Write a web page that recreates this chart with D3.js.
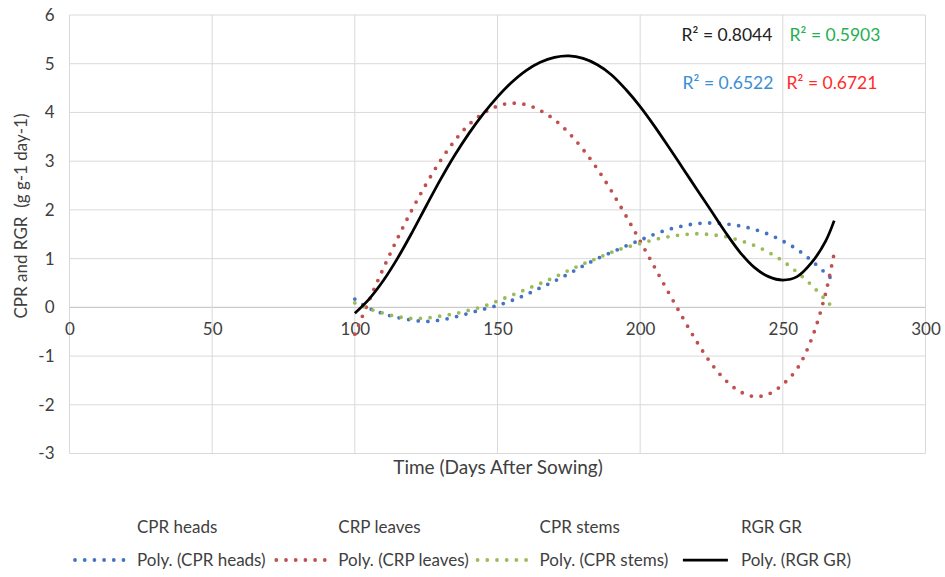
<!DOCTYPE html>
<html>
<head>
<meta charset="utf-8">
<script src="https://cdn.jsdelivr.net/npm/d3@7"></script>
<style>
  body { margin: 0; background: #fff; }
  text { font-family: Lato, "Open Sans", sans-serif; fill: #404040; }
</style>
</head>
<body>
<script>
// days sampled along the fitted trendlines
var days = [100,105,110,115,120,125,130,135,140,145,150,155,160,165,170,175,180,185,190,195,
            200,205,210,215,220,225,230,235,240,245,250,255,260,265,268];

var cprHeads = [0.17,-0.02,-0.13,-0.21,-0.26,-0.29,-0.26,-0.20,-0.12,-0.04,0.04,0.14,0.26,0.40,0.54,0.69,0.85,1.00,1.13,1.26,
                1.38,1.50,1.60,1.67,1.72,1.73,1.71,1.67,1.60,1.50,1.36,1.19,0.96,0.70,0.53];
var crpLeaves = [-0.55,0.14,0.80,1.42,2.00,2.53,3.01,3.42,3.75,3.98,4.13,4.19,4.16,4.04,3.85,3.58,3.24,2.84,2.38,1.88,
                 1.36,0.83,0.30,-0.22,-0.72,-1.16,-1.50,-1.73,-1.83,-1.78,-1.58,-1.26,-0.66,0.29,1.12];
var cprStems = [0.09,-0.03,-0.12,-0.19,-0.23,-0.22,-0.18,-0.13,-0.06,0.02,0.13,0.25,0.37,0.49,0.62,0.76,0.89,1.01,1.13,1.23,
                1.31,1.39,1.45,1.49,1.51,1.49,1.45,1.37,1.27,1.13,0.95,0.72,0.46,0.15,-0.03];
var rgrGR = [-0.12,0.17,0.55,1.01,1.53,2.08,2.62,3.12,3.57,3.97,4.32,4.62,4.86,5.03,5.13,5.16,5.11,4.98,4.77,4.47,
             4.12,3.72,3.29,2.85,2.41,1.97,1.53,1.13,0.82,0.63,0.56,0.63,0.91,1.36,1.78];

var seriesNames = ["CPR heads","CRP leaves","CPR stems","RGR GR"];
var seriesColors = ["#4472c4","#c0504d","#9bbb59","#000000"];
var seriesValues = [cprHeads, crpLeaves, cprStems, rgrGR];
var rSquared = ["0.6522","0.6721","0.5903","0.8044"];
var rColors = ["#3a8fd4","#ff2a2a","#1fb050","#222222"];

var xTicks = [0,50,100,150,200,250,300];
var yTicks = [-3,-2,-1,0,1,2,3,4,5,6];

var width = 945, height = 577;
var svg = d3.select("body").append("svg")
  .attr("width", width)
  .attr("height", height);

var x = d3.scaleLinear().domain([0,300]).range([69.5,925.5]);
var y = d3.scaleLinear().domain([-3,6]).range([453.5,15]);

// horizontal grid
svg.append("g")
  .selectAll("line")
  .data(yTicks)
  .enter()
  .append("line")
  .attr("x1", x(0)).attr("x2", x(300))
  .attr("y1", function(d){ return y(d); })
  .attr("y2", function(d){ return y(d); })
  .attr("stroke", function(d){ return d === 0 ? "#bfbfbf" : "#d9d9d9"; })
  .attr("stroke-width", 1);

// vertical grid
svg.append("g")
  .selectAll("line")
  .data(xTicks)
  .enter()
  .append("line")
  .attr("x1", function(d){ return x(d); })
  .attr("x2", function(d){ return x(d); })
  .attr("y1", y(6)).attr("y2", y(-3))
  .attr("stroke", "#d9d9d9")
  .attr("stroke-width", 1);

var plain = function(d){ return String(d); };

// y tick labels
var yAxis = svg.append("g")
  .attr("transform", "translate(" + (x(0) - 15) + ",0)")
  .call(d3.axisLeft(y).tickValues(yTicks).tickFormat(plain).tickSize(0).tickPadding(0));
yAxis.select(".domain").remove();
yAxis.selectAll("text")
  .style("font-family", "Lato, sans-serif")
  .style("font-size", "17px")
  .style("fill", "#404040");

// x tick labels sit on the zero line
var xAxis = svg.append("g")
  .attr("transform", "translate(0," + y(0) + ")")
  .call(d3.axisBottom(x).tickValues(xTicks).tickFormat(plain).tickSize(0).tickPadding(16));
xAxis.select(".domain").remove();
xAxis.selectAll("text")
  .style("font-family", "Lato, sans-serif")
  .style("font-size", "17px")
  .style("fill", "#404040");

// axis titles
svg.append("text")
  .text("Time (Days After Sowing)")
  .attr("x", 498)
  .attr("y", 474)
  .attr("text-anchor", "middle")
  .attr("font-size", "19px");

svg.append("text")
  .text("CPR and RGR  (g g-1 day-1)")
  .attr("transform", "translate(27,216) rotate(-90)")
  .attr("text-anchor", "middle")
  .attr("font-size", "17px")
  .attr("xml:space", "preserve");

// trendlines
var line = d3.line()
  .x(function(d){ return x(d[0]); })
  .y(function(d){ return y(d[1]); })
  .curve(d3.curveCatmullRom);

seriesValues.forEach(function(vals, i){
  var pts = days.map(function(d, j){ return [d, vals[j]]; });
  var path = svg.append("path")
    .attr("d", line(pts))
    .attr("fill", "none")
    .attr("stroke", seriesColors[i]);
  if (i < 3) {
    path.attr("stroke-width", 3.8)
      .attr("stroke-linecap", "round")
      .attr("stroke-dasharray", "0 9.7");
  } else {
    path.attr("stroke-width", 2.75);
  }
});

// R² labels
var rPos = [[728,83],[832,83],[835,35],[727,35]];
rSquared.forEach(function(r, i){
  svg.append("text")
    .text("R² = " + r)
    .attr("x", rPos[i][0])
    .attr("y", rPos[i][1])
    .attr("dy", "0.35em")
    .attr("text-anchor", "middle")
    .attr("font-size", "17.5px")
    .style("fill", rColors[i]);
});

// legend: two rows, data series (no marker) then trendlines
var legendX = 75, legendStep = 201.3;
seriesNames.forEach(function(name, i){
  var lx = legendX + i * legendStep;
  svg.append("text")
    .text(name)
    .attr("x", lx + 62)
    .attr("y", 527)
    .attr("dy", "0.35em")
    .attr("font-size", "17px");

  var sym = svg.append("line")
    .attr("x1", lx).attr("x2", lx + 53)
    .attr("y1", 560).attr("y2", 560)
    .attr("stroke", seriesColors[i]);
  if (i < 3) {
    sym.attr("stroke-width", 3.8)
      .attr("stroke-linecap", "round")
      .attr("stroke-dasharray", "0 9.7");
  } else {
    sym.attr("x1", lx + 4).attr("x2", lx + 49).attr("stroke-width", 2.75);
  }

  svg.append("text")
    .text("Poly. (" + name + ")")
    .attr("x", lx + 62)
    .attr("y", 560)
    .attr("dy", "0.35em")
    .attr("font-size", "17px");
});
</script>
</body>
</html>
